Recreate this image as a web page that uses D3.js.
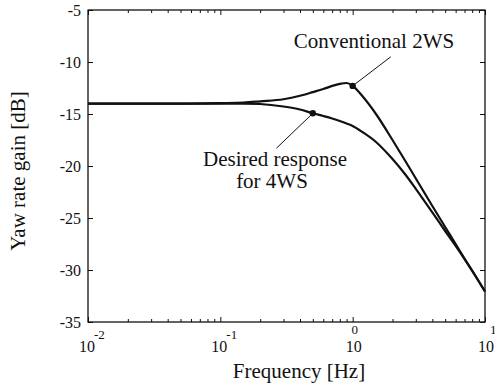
<!DOCTYPE html>
<html>
<head>
<meta charset="utf-8">
<script src="https://cdn.jsdelivr.net/npm/d3@7"></script>
<style>
  body { margin: 0; background: #fff; }
</style>
</head>
<body>
<script>
// frequency grid [Hz] and the two gain curves [dB]
var freqs = [0.01, 0.02, 0.05, 0.1, 0.15, 0.2, 0.3, 0.4, 0.5, 0.6, 0.7, 0.8, 0.9,
             1.0, 1.2, 1.5, 2, 2.5, 3, 4, 5, 6, 7, 8, 10];
var gain2WS = [-14.0, -14.0, -14.0, -13.95, -13.9, -13.78, -13.58, -13.25, -12.9, -12.6, -12.3, -12.1, -12.02,
               -12.3, -13.37, -15.0, -17.5, -19.52, -21.2, -23.85, -25.87, -27.5, -28.9, -30.1, -32.07];
var gain4WS = [-14.0, -14.0, -14.0, -14.0, -14.0, -14.04, -14.28, -14.57, -14.93, -15.19, -15.43, -15.67, -15.91,
               -16.15, -16.78, -17.69, -19.33, -20.82, -22.2, -24.47, -26.25, -27.69, -28.94, -30.05, -32.07];

var yTicks = [-35, -30, -25, -20, -15, -10, -5];
var xMajor = [0.01, 0.1, 1, 10];

// annotations: marker frequency on curve, and leader-line start (in data units)
var notes = [
  {text: ["Conventional 2WS"], series: gain2WS, f: 1.0, from: [1.94, -9.5]},
  {text: ["Desired response", "for 4WS"], series: gain4WS, f: 0.5, from: [0.265, -18.3]}
];

var FONT = "'Liberation Serif', 'DejaVu Serif', 'Times New Roman', serif";

var W = 495, H = 390,
    L = 88, R = 485, T = 10, B = 322;

var svg = d3.select("body").append("svg")
    .attr("width", W)
    .attr("height", H)
    .attr("font-family", FONT);

var x = d3.scaleLog().domain([0.01, 10]).range([L, R]);
var y = d3.scaleLinear().domain([-35, -5]).range([B, T]);

var allX = x.ticks();

function isMajor(d) { return xMajor.indexOf(d) >= 0; }

// bottom / top ticks (inward)
var gb = svg.append("g").attr("transform", "translate(0," + B + ")")
    .call(d3.axisBottom(x).tickValues(allX).tickFormat("").tickSizeInner(-5).tickSizeOuter(0));
gb.selectAll(".tick line").attr("y2", function(d) { return isMajor(d) ? -5 : -3; });

var gt = svg.append("g").attr("transform", "translate(0," + T + ")")
    .call(d3.axisTop(x).tickValues(allX).tickFormat("").tickSizeInner(-5).tickSizeOuter(0));
gt.selectAll(".tick line").attr("y2", function(d) { return isMajor(d) ? 5 : 3; });

// left / right ticks
var gl = svg.append("g").attr("transform", "translate(" + L + ",0)")
    .call(d3.axisLeft(y).tickValues(yTicks).tickFormat(function(d) { return String(d); })
      .tickSizeInner(-5).tickSizeOuter(0).tickPadding(7));
gl.attr("font-family", FONT).attr("font-size", 16);
gl.selectAll("text").attr("fill", "#111").attr("dy", "0.32em");

svg.append("g").attr("transform", "translate(" + R + ",0)")
    .call(d3.axisRight(y).tickValues(yTicks).tickFormat("").tickSizeInner(-5).tickSizeOuter(0));

svg.selectAll(".domain").remove();
svg.selectAll(".tick line").attr("stroke", "#111").attr("stroke-width", 1);

// frame
svg.append("rect")
    .attr("x", L).attr("y", T)
    .attr("width", R - L).attr("height", B - T)
    .attr("fill", "none").attr("stroke", "#111").attr("stroke-width", 1.3);

// x tick labels 10^n
var xl = svg.selectAll(".xlab")
    .data(xMajor)
    .enter().append("g")
    .attr("class", "xlab");
xl.append("text")
    .attr("x", function(d) { return x(d) - (Math.log10(d) < 0 ? 1 : -1); })
    .attr("y", 352)
    .attr("text-anchor", "middle")
    .attr("font-size", 16)
    .attr("fill", "#111")
    .text("10");
xl.append("text")
    .attr("x", function(d) {
      var e = Math.round(Math.log10(d));
      if (e < 0) return x(d) + 6;
      if (e === 0) return x(d) + 2;
      return x(d) + 5;
    })
    .attr("y", function(d) { return Math.log10(d) < 0 ? 339 : 334; })
    .attr("text-anchor", function(d) { return Math.round(Math.log10(d)) === 0 ? "middle" : "start"; })
    .attr("font-size", 13)
    .attr("fill", "#111")
    .text(function(d) { return String(Math.round(Math.log10(d))); });

// axis titles
svg.append("text")
    .attr("x", 299).attr("y", 378)
    .attr("text-anchor", "middle")
    .attr("font-size", 21)
    .attr("fill", "#111")
    .text("Frequency [Hz]");

svg.append("text")
    .attr("transform", "translate(25,171) rotate(-90)")
    .attr("text-anchor", "middle")
    .attr("font-size", 21)
    .attr("fill", "#111")
    .text("Yaw rate gain [dB]");

// curves
var line = d3.line()
    .x(function(d) { return x(d[0]); })
    .y(function(d) { return y(d[1]); })
    .curve(d3.curveMonotoneX);

[gain2WS, gain4WS].forEach(function(s) {
  svg.append("path")
      .datum(d3.zip(freqs, s))
      .attr("d", line)
      .attr("fill", "none")
      .attr("stroke", "#111")
      .attr("stroke-width", 2.2)
      .attr("stroke-linejoin", "round");
});

// leaders + markers
notes.forEach(function(n) {
  var v = n.series[freqs.indexOf(n.f)];
  svg.append("line")
      .attr("x1", x(n.from[0])).attr("y1", y(n.from[1]))
      .attr("x2", x(n.f)).attr("y2", y(v))
      .attr("stroke", "#111").attr("stroke-width", 1);
  svg.append("circle")
      .attr("cx", x(n.f)).attr("cy", y(v))
      .attr("r", 3.2)
      .attr("fill", "#111");
});

svg.append("text")
    .attr("x", 374).attr("y", 48)
    .attr("text-anchor", "middle")
    .attr("font-size", 21)
    .attr("fill", "#111")
    .text(notes[0].text[0]);

svg.append("text")
    .attr("x", 275).attr("y", 166)
    .attr("text-anchor", "middle")
    .attr("font-size", 21)
    .attr("fill", "#111")
    .text(notes[1].text[0]);
svg.append("text")
    .attr("x", 272).attr("y", 188)
    .attr("text-anchor", "middle")
    .attr("font-size", 21)
    .attr("fill", "#111")
    .text(notes[1].text[1]);
</script>
</body>
</html>
